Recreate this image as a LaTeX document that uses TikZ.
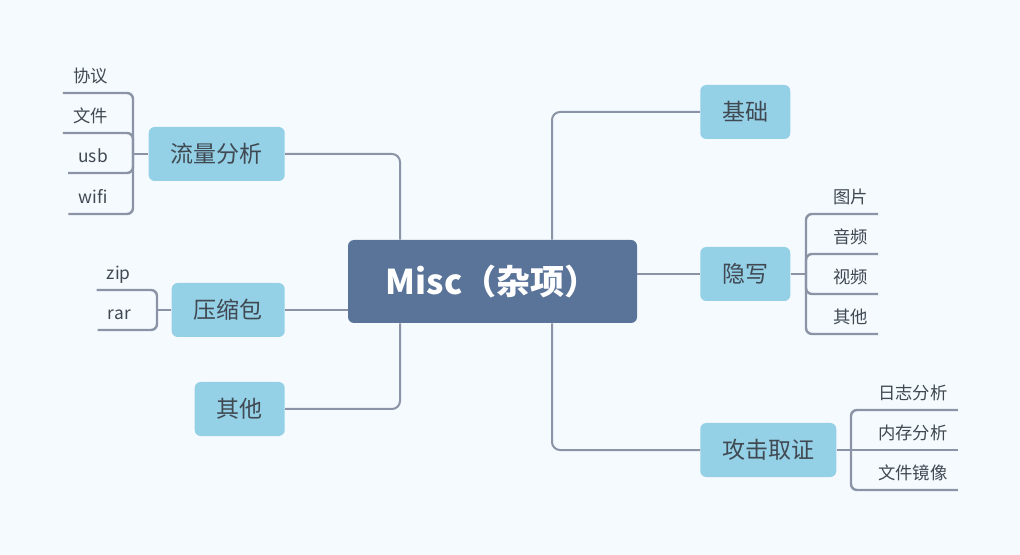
\documentclass[tikz,border=0pt]{standalone}
\usepackage{fontspec}
\setmainfont{Noto Sans CJK SC}
\definecolor{bgblue}{HTML}{F5FAFE}
\definecolor{rootblue}{HTML}{5A7399}
\definecolor{topicblue}{HTML}{94D0E6}
\definecolor{linegrey}{HTML}{8A94A6}
\definecolor{textgrey}{HTML}{404952}
\tikzset{
  root/.style={fill=rootblue, rounded corners=4.5pt, minimum width=216.75pt,
    minimum height=62.25pt, text=white,
    font=\fontsize{25.6pt}{29pt}\selectfont\bfseries},
  topic/.style={fill=topicblue, rounded corners=4.5pt, minimum height=40.5pt,
    inner xsep=16.5pt, inner ysep=0pt, text=textgrey,
    font=\fontsize{17.25pt}{20pt}\selectfont},
  leaf/.style={minimum height=25.5pt, inner xsep=7.5pt, inner ysep=0pt,
    text=textgrey, font=\fontsize{13pt}{15pt}\selectfont,
    text height=10.8pt, text depth=0.9pt},
  link/.style={draw=linegrey, line width=1.5pt, rounded corners=6pt},
  twig/.style={draw=linegrey, line width=1.8pt, rounded corners=4.5pt}
}
\begin{document}
\begin{tikzpicture}[x=0.75pt, y=-0.75pt]
\fill[bgblue] (0,0) rectangle (1020,555);
\useasboundingbox (0,0) rectangle (1020,555);

% root and main topics
\node[root] (misc) at (492.5,281.5) {Misc（杂项）};
\node[topic, anchor=east] (liu) at (285,154) {流量分析};
\node[topic, anchor=east] (ysb) at (285,310) {压缩包};
\node[topic, anchor=east] (qtl) at (285,409) {其他};
\node[topic, anchor=west] (jc) at (700,112) {基础};
\node[topic, anchor=west] (yx) at (700,274) {隐写};
\node[topic, anchor=west] (gjqz) at (700,450) {攻击取证};

\coordinate (jl) at (400,0);
\coordinate (jr) at (552,0);
\draw[link] (liu.east) -| (jl |- misc.north);
\draw[link] (qtl.east) -| (jl |- misc.south);
\draw[link] (ysb.east) -- (ysb.east -| misc.west);
\draw[link] (jc.west) -| (jr |- misc.north);
\draw[link] (gjqz.west) -| (jr |- misc.south);
\draw[link] (yx.west) -- (yx.west -| misc.east);

% subtopics
\coordinate (b1) at (133,154);
\coordinate (b2) at (157,310);
\coordinate (b3) at (806,274);
\coordinate (b4) at (851,450);

\node[leaf, anchor=south east] (xy) at (118,93) {协议};
\node[leaf, anchor=south east] (wj) at (118,133) {文件};
\node[leaf, anchor=south east] (usb) at (118,173) {usb};
\node[leaf, anchor=south east] (wifi) at (118,214) {wifi};
\node[leaf, anchor=south east] (zip) at (141,290) {zip};
\node[leaf, anchor=south east] (rar) at (141,330) {rar};
\node[leaf, anchor=south west] (tp) at (823,214) {图片};
\node[leaf, anchor=south west] (yp) at (823,254) {音频};
\node[leaf, anchor=south west] (sp) at (823,294) {视频};
\node[leaf, anchor=south west] (qtr) at (823,334) {其他};
\node[leaf, anchor=south west] (rz) at (868,410) {日志分析};
\node[leaf, anchor=south west] (nc) at (868,450) {内存分析};
\node[leaf, anchor=south west] (jx) at (868,490) {文件镜像};

\draw[twig] (liu.west) -- (b1);
\foreach \l in {xy,wj,usb,wifi}
  \draw[twig] (b1) |- (\l.south east) -- (\l.south west);
\draw[twig] (ysb.west) -- (b2);
\foreach \l in {zip,rar}
  \draw[twig] (b2) |- (\l.south east) -- (\l.south west);
\draw[twig] (yx.east) -- (b3);
\foreach \l in {tp,yp,sp,qtr}
  \draw[twig] (b3) |- (\l.south west) -- (\l.south east);
\draw[twig] (gjqz.east) -- (b4) -- (nc.south east);
\foreach \l in {rz,jx}
  \draw[twig] (b4) |- (\l.south west) -- (\l.south east);
\end{tikzpicture}
\end{document}
